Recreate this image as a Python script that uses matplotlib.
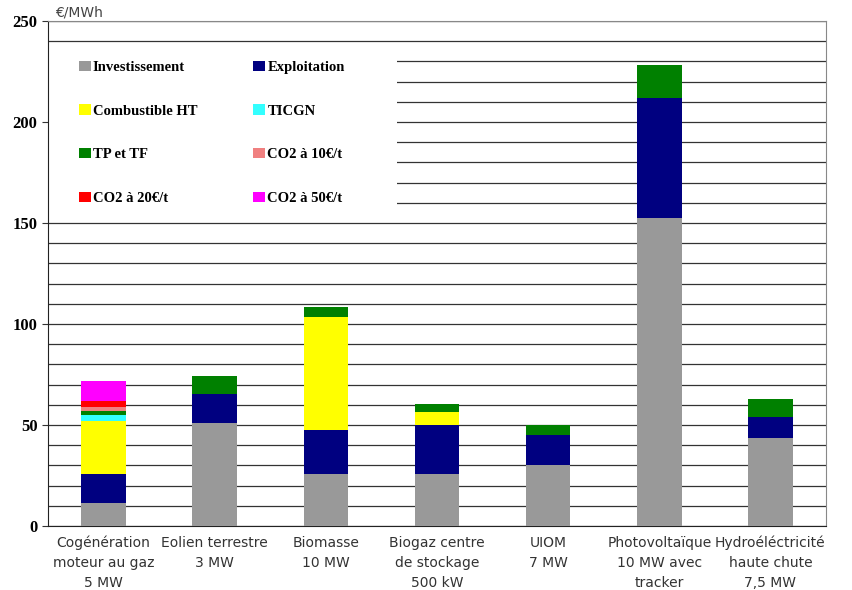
import matplotlib.pyplot as plt
import numpy as np
from matplotlib.patches import Rectangle

categories = ["Cogénération\nmoteur au gaz\n5 MW", "Eolien terrestre\n3 MW", "Biomasse\n10 MW",
              "Biogaz centre\nde stockage\n500 kW", "UIOM\n7 MW", "Photovoltaïque\n10 MW avec\ntracker",
              "Hydroéléctricité\nhaute chute\n7,5 MW"]

investissement = [11.2, 51.2, 25.7, 25.7, 30.2, 152.3, 43.7]
exploitation = [14.5, 14.0, 21.8, 24.3, 14.8, 59.4, 10.4]
combustible = [26.3, 0, 56.1, 6.4, 0, 0, 0]
ticgn = [3.0, 0, 0, 0, 0, 0, 0]
tp_tf = [2.0, 9.1, 4.7, 4.0, 5.0, 16.3, 8.8]
co2_10 = [2.0, 0, 0, 0, 0, 0, 0]
co2_20 = [3.0, 0, 0, 0, 0, 0, 0]
co2_50 = [10.0, 0, 0, 0, 0, 0, 0]

series = [("Investissement", investissement, "#999999"),
          ("Exploitation", exploitation, "#000080"),
          ("Combustible HT", combustible, "#ffff00"),
          ("TICGN", ticgn, "#33ffff"),
          ("TP et TF", tp_tf, "#008000"),
          ("CO2 à 10€/t", co2_10, "#f08080"),
          ("CO2 à 20€/t", co2_20, "#ff0000"),
          ("CO2 à 50€/t", co2_50, "#ff00ff")]

fig = plt.figure(figsize=(8.53, 5.90), dpi=100)
ax = fig.add_axes([48/853, 1-526/590, 778/853, 505/590])

x = np.arange(len(categories))
bottom = np.zeros(len(categories))
handles = []
for name, vals, col in series:
    b = ax.bar(x, vals, 0.4, bottom=bottom, color=col, label=name, zorder=3)
    handles.append(b)
    bottom += np.array(vals)

ax.set_xlim(-0.5, 6.5)
ax.set_ylim(0, 250)
ax.set_yticks(np.arange(0, 251, 50))
ax.set_yticks(np.arange(0, 251, 10), minor=True)
ax.grid(True, which="both", axis="y", color="#333333", linewidth=0.9, zorder=1)
ax.tick_params(axis="y", which="minor", length=0)
ax.tick_params(axis="y", which="major", length=4, direction="out", color="#333333")
ax.set_yticklabels([str(v) for v in range(0, 251, 50)], fontfamily="Liberation Serif",
                   fontweight="bold", fontsize=12)
ax.set_xticks(x)
ax.set_xticklabels(categories, fontsize=10, color="#333333", linespacing=1.55)
ax.tick_params(axis="x", length=0, pad=7)

ax.spines["left"].set_color("#222222")
ax.spines["bottom"].set_color("#222222")
ax.spines["top"].set_color("#888888")
ax.spines["right"].set_color("#888888")

ax.text(0.009, 1.002, "€/MWh", transform=ax.transAxes, fontsize=10, color="#444444", va="bottom")

# white area behind the legend
ax.add_patch(Rectangle((0, 155/250), 0.4486, 81/250, transform=ax.transAxes,
                       facecolor="white", edgecolor="none", zorder=2))

# legend is filled row by row in the original
order = [0, 2, 4, 6, 1, 3, 5, 7]
ax.legend(handles=[handles[i] for i in order], ncol=2, loc="upper left",
          bbox_to_anchor=(0.0398, 0.921),
          frameon=False, borderpad=0, borderaxespad=0, handlelength=0.8, handleheight=0.7,
          handletextpad=0.15, labelspacing=2.08, columnspacing=3.85,
          prop={"family": "Liberation Serif", "weight": "bold", "size": 10.5})

fig.savefig("out.png", dpi=100)
